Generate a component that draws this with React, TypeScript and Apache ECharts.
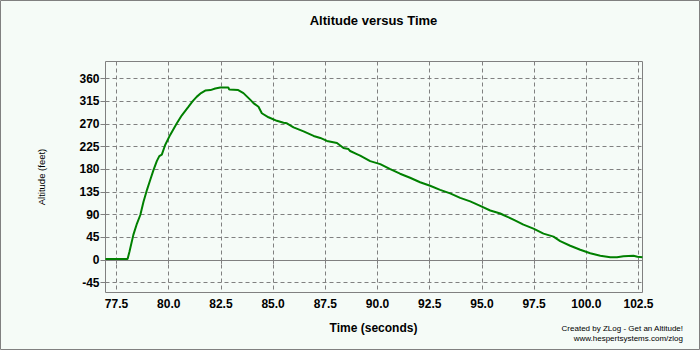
import React, { useEffect, useRef } from "react";
import * as echarts from "echarts";

// ---- Data ----
const timeSeconds = [
  76.97, 78.03, 78.12, 78.31, 78.48, 78.64, 78.79, 78.96, 79.11, 79.27,
  79.43, 79.55, 79.67, 79.83, 80.07, 80.39, 80.63, 80.95, 81.15, 81.35,
  81.55, 81.75, 82.0, 82.23, 82.47, 82.86, 82.9, 83.33, 83.58, 83.9,
  84.06, 84.3, 84.46, 84.78, 85.18, 85.5, 85.66, 85.98, 86.46, 86.94,
  87.26, 87.58, 88.06, 88.37, 88.61, 88.69, 89.01, 89.17, 89.65, 90.13,
  90.61, 91.08, 91.56, 92.04, 92.52, 93.0, 93.48, 93.96, 94.44, 94.92,
  95.4, 95.88, 96.03, 96.51, 96.99, 97.47, 97.95, 98.43, 98.75, 99.23,
  99.71, 100.19, 100.67, 101.15, 101.47, 101.78, 102.26, 102.45, 102.69,
];
const altitudeFeet = [
  1.5, 1.5, 16, 50, 72, 89, 115, 139, 158, 178,
  196, 206, 209, 228, 248, 271, 287, 304, 315, 324,
  331, 336, 337, 340, 342, 342, 338, 337, 331, 318,
  311, 304, 291, 283, 276, 272, 271, 263, 255, 246,
  242, 236, 232, 222, 220, 216, 210, 207, 196, 190,
  180, 171, 163, 154, 147, 139, 132, 123, 116, 107,
  98, 92, 89, 80, 70, 62, 52, 46, 37, 28,
  20, 13, 8, 5, 5, 7, 8, 6, 5,
];
const xTickMin = 77.5;
const xTickMax = 102.5;
const xTickStep = 2.5;
const yTickMin = -45;
const yTickMax = 360;
const yTickStep = 45;

const titleText = "Altitude versus Time";
const xAxisTitle = "Time (seconds)";
const yAxisTitle = "Altitude (feet)";
const creditLine1 = "Created by ZLog - Get an Altitude!";
const creditLine2 = "www.hespertsystems.com/zlog";

// ---- Style ----
const BG = "#f5fbf7";
const GRID = "#808080";
const FONT = '"Liberation Sans", Arial, sans-serif';
// full plot-frame ranges (the frame is a bit wider than the ticked range)
const X_MIN = 76.973;
const X_MAX = 102.692;
const Y_MIN = -64.85;
const Y_MAX = 393.75;

export default function App() {
  const ref = useRef<HTMLDivElement>(null);

  useEffect(() => {
    if (!ref.current) return;
    const chart = echarts.init(ref.current, null, { renderer: "svg" });
    const pairs = timeSeconds.map((t, i) => [t, altitudeFeet[i]]);
    const dashed = { color: GRID, width: 1, type: [4, 3] as any };

    chart.setOption({
      animation: false,
      backgroundColor: BG,
      grid: [
        {
          left: 105.5, top: 61.5, width: 537, height: 231,
          show: true, borderColor: GRID, borderWidth: 1, backgroundColor: "transparent",
          containLabel: false, outerBoundsMode: "none",
        },
        { left: 116.5, top: 61.5, width: 522, height: 231, containLabel: false, outerBoundsMode: "none" },
        { left: 105.5, top: 78.5, width: 537, height: 204, containLabel: false, outerBoundsMode: "none" },
      ],
      xAxis: [
        { gridIndex: 0, type: "value", min: X_MIN, max: X_MAX, show: false },
        {
          gridIndex: 1, type: "value", min: xTickMin, max: xTickMax, interval: xTickStep,
          axisLine: { show: false },
          axisTick: { show: true, inside: false, length: 4, lineStyle: { color: GRID } },
          axisLabel: {
            formatter: (v: number) => v.toFixed(1),
            fontWeight: "bold", fontSize: 12, color: "#000", margin: 5, fontFamily: FONT,
          },
          splitLine: { show: true, lineStyle: dashed },
        },
        {
          gridIndex: 2, type: "value", min: X_MIN, max: X_MAX,
          axisLine: { show: true, onZero: true, lineStyle: { color: GRID, width: 1 } },
          axisTick: { show: false },
          axisLabel: { show: false },
          splitLine: { show: false },
        },
      ],
      yAxis: [
        { gridIndex: 0, type: "value", min: Y_MIN, max: Y_MAX, show: false },
        { gridIndex: 1, type: "value", min: Y_MIN, max: Y_MAX, show: false },
        {
          gridIndex: 2, type: "value", min: yTickMin, max: yTickMax, interval: yTickStep,
          axisLine: { show: false },
          axisTick: { show: true, inside: false, length: 5, lineStyle: { color: GRID } },
          axisLabel: { fontWeight: "bold", fontSize: 12, color: "#000", margin: 6, fontFamily: FONT },
          splitLine: { show: true, lineStyle: dashed },
        },
      ],
      series: [
        {
          type: "line",
          xAxisIndex: 0,
          yAxisIndex: 0,
          data: pairs,
          symbol: "none",
          showSymbol: false,
          lineStyle: { color: "#008000", width: 2 },
          z: 10,
        },
      ],
      graphic: [
        {
          type: "rect", silent: true,
          shape: { x: 0.5, y: 0.5, width: 699, height: 349 },
          style: { fill: "none", stroke: GRID, lineWidth: 1 },
        },
        {
          type: "text", x: 373.5, y: 20,
          style: {
            text: titleText, font: `bold 13px ${FONT}`, fill: "#000",
            align: "center", verticalAlign: "middle", textAlign: "center", textVerticalAlign: "middle",
          },
        },
        {
          type: "text", x: 373.5, y: 328,
          style: {
            text: xAxisTitle, font: `bold 12px ${FONT}`, fill: "#000",
            align: "center", verticalAlign: "middle", textAlign: "center", textVerticalAlign: "middle",
          },
        },
        {
          type: "text", x: 41, y: 177, rotation: Math.PI / 2,
          style: {
            text: yAxisTitle, font: `9.5px ${FONT}`, fill: "#000",
            align: "center", verticalAlign: "middle", textAlign: "center", textVerticalAlign: "middle",
          },
        },
        {
          type: "text", x: 683, y: 328,
          style: {
            text: creditLine1, font: `8px ${FONT}`, fill: "#000",
            align: "right", verticalAlign: "middle", textAlign: "right", textVerticalAlign: "middle",
          },
        },
        {
          type: "text", x: 683, y: 338,
          style: {
            text: creditLine2, font: `8px ${FONT}`, fill: "#000",
            align: "right", verticalAlign: "middle", textAlign: "right", textVerticalAlign: "middle",
          },
        },
      ],
    });

    return () => chart.dispose();
  }, []);

  return (
    <div
      ref={ref}
      style={{ position: "absolute", left: 0, top: 0, width: 700, height: 350, background: BG }}
    />
  );
}
